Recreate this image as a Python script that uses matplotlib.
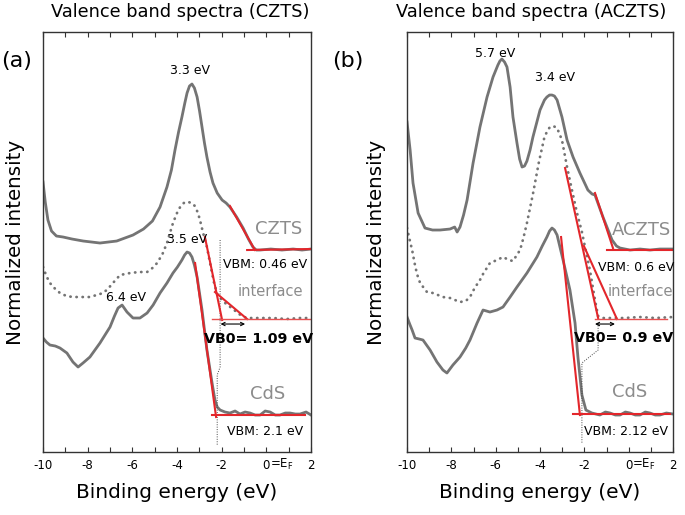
import numpy as np
import matplotlib
matplotlib.use('Agg')
import matplotlib.pyplot as plt

plt.rcParams['font.family'] = 'DejaVu Sans'
plt.rcParams['axes.unicode_minus'] = False

GREY = '#747474'
LABEL_GREY = '#8c8c8c'
RED = '#e3262b'

# ---------------- panel (a): CZTS / interface / CdS ----------------
a_czts_e = [-10.0, -9.9, -9.78, -9.62, -9.4, -9.1, -8.7, -8.2, -7.45, -6.7, -5.97, -5.5, -5.1, -4.76, -4.45,
            -4.25, -4.09, -3.93, -3.78, -3.65, -3.55, -3.44, -3.33, -3.22, -3.10, -2.99, -2.88, -2.77, -2.66,
            -2.52, -2.39, -2.2, -1.98, -1.8, -1.63, -1.33, -1.04, -0.80, -0.60, -0.45, -0.28, 0.2, 0.7, 1.2,
            1.6, 2.0]
a_czts_i = [270, 250, 232, 221, 216, 215, 213, 211, 209, 211, 217, 223, 231, 245, 265,
            282, 302, 320, 335, 349, 359, 366, 368, 364, 355, 341, 325, 309, 295,
            280, 269, 259, 252, 249, 245, 235, 224, 213, 205, 202, 202, 203, 202, 203,
            202, 203]

a_intf_e = [-10.0, -9.85, -9.69, -9.45, -9.24, -8.95, -8.66, -8.3, -7.90, -7.6, -7.31, -7.1, -6.87, -6.55,
            -6.10, -5.7, -5.34, -5.1, -4.89, -4.65, -4.45, -4.18, -4.0, -3.86, -3.75, -3.64, -3.5, -3.33,
            -3.2, -3.06, -2.95, -2.83, -2.66, -2.52, -2.35, -2.2, -1.9, -1.5, -1.1, -0.86, -0.3, 0.3, 0.9,
            1.5, 2.0]
a_intf_i = [185, 176, 169, 163, 159, 156, 155, 155, 155, 157, 159, 163, 169, 177,
            179, 180, 180, 184, 189, 198, 209, 229, 239, 245, 248, 250, 250, 249,
            246, 239, 230, 219, 205, 189, 170, 158, 150, 143, 136, 134, 134, 134, 133,
            134, 134]

a_cds_e = [-10.00, -9.85, -9.69, -9.45, -9.24, -8.93, -8.66, -8.43, -8.21, -7.90, -7.45, -7.00, -6.8, -6.64,
           -6.46, -6.24, -5.97, -5.66, -5.34, -5.07, -4.76, -4.45, -4.18, -3.98, -3.78, -3.66, -3.55, -3.44,
           -3.33, -3.22, -3.10, -2.88, -2.66, -2.43, -2.30, -2.2, -2.07, -1.85, -1.63, -1.40, -1.18, -0.95,
           -0.73, -0.5, -0.28, -0.05, 0.17, 0.4, 0.61, 0.85, 1.06, 1.3, 1.51, 1.78, 2.0]
a_cds_i = [114, 110, 107, 106, 104, 99, 90, 85, 89, 95, 109, 125, 136, 144,
           147, 140, 134, 134, 139, 147, 159, 169, 179, 185, 192, 197, 200, 199,
           195, 187, 175, 142, 102, 69, 52, 45, 42, 40, 39, 41, 38, 40,
           39, 37, 37, 41, 40, 37, 37, 39, 39, 38, 38, 40, 37]

# linear fits (start, end)
a_fits = [([-1.63, -0.51], [246, 202]),   # CZTS edge
          ([-0.86, 2.0], [202, 203]),     # CZTS base
          ([-2.75, -1.98], [215, 132]),   # interface edge
          ([-2.30, -0.86], [160, 133]),   # interface tail
          ([-3.19, -2.25], [189, 35]),    # CdS edge
          ([-2.43, 1.73], [37, 37])]      # CdS base
a_intf_base = ([-2.43, 1.96], [133, 133])
a_vline_e = [-2.07, -2.07, -2.2, -2.2]
a_vline_i = [212, 85, 77, 7]
a_arrow = ([-2.05, -0.95], 128)

a_notes = [(-3.42, 382, '3.3 eV'), (-3.55, 213, '3.5 eV'), (-6.28, 155, '6.4 eV'),
           (-0.06, 188, 'VBM: 0.46 eV'), (-0.06, 21, 'VBM: 2.1 eV')]
a_names = [(0.57, 223, 'CZTS', 13), (0.17, 161, 'interface', 10.5), (0.08, 58, 'CdS', 13)]
a_vbo = (-0.37, 113, 'VB0= 1.09 eV')

# ---------------- panel (b): ACZTS / interface / CdS ----------------
b_aczts_e = [-10.0, -9.86, -9.73, -9.50, -9.19, -8.85, -8.51, -8.06, -7.85, -7.74, -7.61, -7.45, -7.29, -7.02,
             -6.71, -6.39, -6.12, -5.90, -5.81, -5.72, -5.60, -5.49, -5.35, -5.22, -5.04, -4.92, -4.81, -4.70,
             -4.59, -4.45, -4.32, -4.00, -3.80, -3.69, -3.57, -3.46, -3.35, -3.23, -3.01, -2.78, -2.51, -2.20,
             -1.84, -1.65, -1.52, -1.16, -0.75, -0.55, -0.39, 0.06, 0.51, 0.96, 1.41, 2.0]
b_aczts_i = [330, 302, 269, 239, 224, 222, 222, 223, 225, 220, 225, 237, 252, 289,
             325, 355, 375, 387, 391, 393, 390, 385, 365, 335, 309, 293, 285, 286,
             291, 302, 315, 342, 352, 355, 357, 357, 356, 352, 335, 312, 295, 279,
             262, 258, 257, 235, 212, 206, 204, 202, 203, 202, 203, 203]

b_intf_e = [-10.0, -9.9, -9.77, -9.65, -9.55, -9.41, -9.10, -8.83, -8.38, -8.06, -7.61, -7.35, -7.16, -6.95,
            -6.71, -6.57, -6.26, -5.94, -5.67, -5.40, -5.22, -4.90, -4.75, -4.59, -4.32, -4.05, -3.80, -3.65,
            -3.55, -3.40, -3.23, -3.01, -2.78, -2.56, -2.33, -2.11, -1.97, -1.75, -1.52, -1.38, -1.2, -0.84,
            -0.2, 0.5, 1.2, 2.0]
b_intf_i = [224, 214, 202, 188, 178, 169, 160, 159, 155, 154, 150, 151, 155, 164,
            172, 178, 189, 192, 195, 192, 191, 202, 214, 229, 258, 290, 315, 322,
            325, 326, 324, 312, 285, 262, 239, 220, 205, 182, 152, 136, 134, 134,
            134, 135, 134, 135]

b_cds_e = [-10.0, -9.88, -9.77, -9.64, -9.45, -9.28, -8.96, -8.65, -8.38, -8.20, -7.93, -7.61, -7.35, -7.16,
           -6.84, -6.57, -6.26, -5.94, -5.67, -5.35, -5.04, -4.59, -4.14, -3.90, -3.69, -3.57, -3.46, -3.35,
           -3.23, -2.96, -2.65, -2.42, -2.29, -2.11, -1.93, -1.66, -1.30, -1.05, -0.84, -0.6, -0.39, -0.15,
           0.06, 0.3, 0.51, 0.75, 0.96, 1.2, 1.41, 1.7, 2.0]
b_cds_i = [135, 128, 122, 114, 113, 112, 102, 90, 82, 79, 87, 95, 104, 112,
           129, 142, 140, 142, 145, 155, 165, 179, 195, 206, 215, 221, 224, 222,
           217, 192, 162, 129, 95, 57, 42, 39, 37, 40, 39, 37, 37, 40,
           39, 37, 37, 40, 39, 37, 37, 39, 38]

b_fits = [([-1.52, -0.71], [259, 204]),   # ACZTS edge
          ([-0.98, 1.95], [202, 202]),    # ACZTS base
          ([-2.87, -1.38], [284, 134]),   # interface edge
          ([-2.02, -0.53], [206, 133]),   # interface second edge
          ([-3.05, -2.20], [215, 37]),    # CdS edge
          ([-2.51, 1.86], [38, 38])]      # CdS base
b_intf_base = ([-1.52, 1.73], [133, 133])
b_vline_e = [-1.38, -1.38, -2.11, -2.11]
b_vline_i = [129, 102, 89, 9]
b_arrow = ([-1.52, -0.62], 128)

b_notes = [(-6.03, 399, '5.7 eV'), (-3.32, 375, '3.4 eV'),
           (0.33, 185, 'VBM: 0.6 eV'), (-0.12, 21, 'VBM: 2.12 eV')]
b_names = [(0.60, 222, 'ACZTS', 13), (0.55, 161, 'interface', 10.5), (0.06, 60, 'CdS', 13)]
b_vbo = (-0.21, 114, 'VB0= 0.9 eV')

tick_pos = [-10, -8, -6, -4, -2, 0, 2]
tick_lab = ['-10', '-8', '-6', '-4', '-2', '0', '2']


def draw_panel(ax, top, intf, cds, fits, intf_base, vline, arrow, notes, names, vbo):
    ax.plot(top[0], top[1], color=GREY, lw=2.0, solid_joinstyle='round')
    ax.plot(intf[0], intf[1], color=GREY, lw=2.0, linestyle=(0, (0.1, 2.1)), dash_capstyle='round')
    ax.plot(cds[0], cds[1], color=GREY, lw=2.0, solid_joinstyle='round')
    ax.plot(vline[0], vline[1], color='#444444', lw=0.7, linestyle=(0, (1, 1.5)))
    for xs, ys in fits:
        ax.plot(xs, ys, color=RED, lw=1.5)
    ax.plot(intf_base[0], intf_base[1], color='#e85050', lw=1.0)
    ax.annotate('', xy=(arrow[0][0], arrow[1]), xytext=(arrow[0][1], arrow[1]),
                arrowprops=dict(arrowstyle='<->', color='black', lw=0.8, mutation_scale=6,
                                shrinkA=0, shrinkB=0))
    for x, y, s in notes:
        ax.text(x, y, s, fontsize=9, ha='center', va='center', color='black')
    for x, y, s, fs in names:
        ax.text(x, y, s, fontsize=fs, ha='center', va='center', color=LABEL_GREY)
    ax.text(vbo[0], vbo[1], vbo[2], fontsize=10.3, fontweight='bold', ha='center', va='center')

    ax.set_xlim(-10, 2)
    ax.set_ylim(0, 420)
    ax.set_xticks(tick_pos)
    ax.set_xticklabels(tick_lab)
    ax.set_xticks(np.arange(-10, 3, 1), minor=True)
    ax.set_yticks([])
    ax.tick_params(axis='x', which='both', direction='in', top=True, length=3.5, width=0.8,
                   labelsize=8.5, pad=5, color='#333333')
    for sp in ax.spines.values():
        sp.set_linewidth(1.0)
        sp.set_color('#333333')
    ax.annotate('=E$_\\mathregular{F}$', xy=(0, 0), xycoords=('data', 'axes fraction'),
                xytext=(3.5, -12), textcoords='offset pixels', ha='left', va='center', fontsize=8.5)


fig = plt.figure(figsize=(6.85, 5.15), dpi=100)
ax1 = fig.add_axes([0.0628, 0.1223, 0.3912, 0.8155])
ax2 = fig.add_axes([0.5942, 0.1223, 0.3883, 0.8155])

draw_panel(ax1, (a_czts_e, a_czts_i), (a_intf_e, a_intf_i), (a_cds_e, a_cds_i), a_fits, a_intf_base,
           (a_vline_e, a_vline_i), a_arrow, a_notes, a_names, a_vbo)
draw_panel(ax2, (b_aczts_e, b_aczts_i), (b_intf_e, b_intf_i), (b_cds_e, b_cds_i), b_fits, b_intf_base,
           (b_vline_e, b_vline_i), b_arrow, b_notes, b_names, b_vbo)

fig.text(180 / 685, 1 - 12 / 515, 'Valence band spectra (CZTS)', fontsize=12.8, ha='center', va='center')
fig.text(531 / 685, 1 - 12 / 515, 'Valence band spectra (ACZTS)', fontsize=12.8, ha='center', va='center')
fig.text(17 / 685, 1 - 61 / 515, '(a)', fontsize=16, ha='center', va='center')
fig.text(348 / 685, 1 - 61 / 515, '(b)', fontsize=16, ha='center', va='center')
fig.text(16 / 685, 1 - 242 / 515, 'Normalized intensity', rotation=90, fontsize=14.3, ha='center', va='center')
fig.text(377 / 685, 1 - 242 / 515, 'Normalized intensity', rotation=90, fontsize=14.3, ha='center', va='center')
fig.text(177 / 685, 1 - 492 / 515, 'Binding energy (eV)', fontsize=14.5, ha='center', va='center')
fig.text(540 / 685, 1 - 492 / 515, 'Binding energy (eV)', fontsize=14.5, ha='center', va='center')

fig.savefig('out.png', dpi=100)
